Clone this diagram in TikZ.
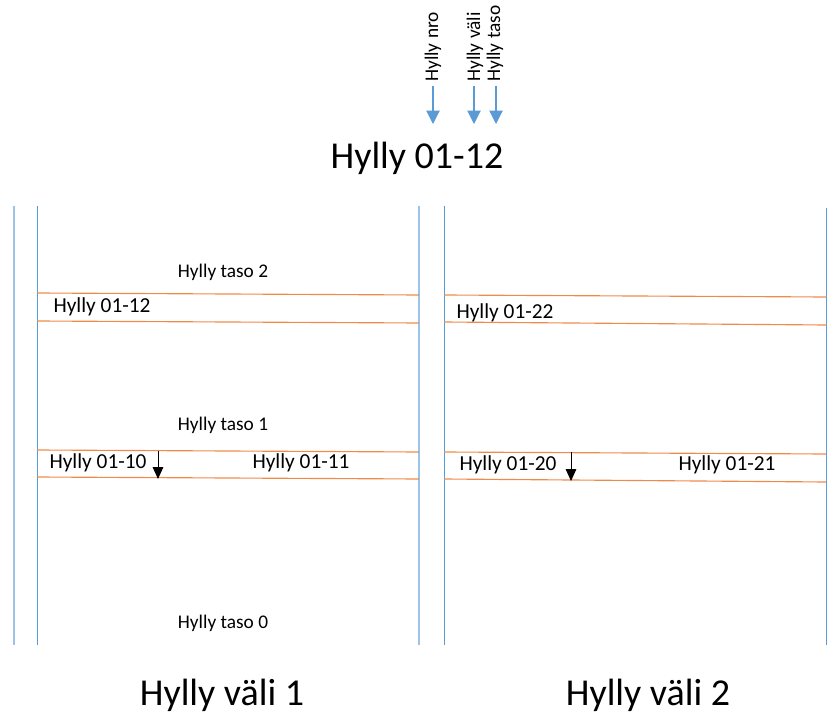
\documentclass[tikz,border=0pt]{standalone}
\usepackage{fontspec}
\setmainfont{Carlito}
\usetikzlibrary{arrows.meta}
\definecolor{rackblue}{HTML}{5B9BD5}
\definecolor{rackpale}{HTML}{9DC3E6}
\definecolor{shelforange}{HTML}{EE8A4A}
\tikzset{
  post/.style={draw=rackblue, line width=0.75pt},
  postpale/.style={draw=rackpale, line width=0.9pt},
  shelf/.style={draw=shelforange, line width=0.85pt},
  lvl/.style={anchor=base, inner sep=0pt, font=\fontsize{14.5}{16}\selectfont},
  slot/.style={anchor=base, inner sep=0pt, font=\fontsize{16}{18}\selectfont},
  big/.style={anchor=base, inner sep=0pt, font=\fontsize{28.5}{32}\selectfont},
  keytxt/.style={anchor=west, inner sep=0pt, rotate=90, font=\fontsize{14.5}{16}\selectfont},
  keyarrow/.style={draw=rackblue, line width=0.8pt, -{Triangle[width=10pt,length=10pt]}, fill=rackblue},
  droparrow/.style={draw=black, line width=0.75pt, -{Triangle[width=8pt,length=9pt]}},
}
\begin{document}
\begin{tikzpicture}[x=0.75pt, y=-0.75pt]
\useasboundingbox (0,0) rectangle (839,713);

% uprights of the two bays
\draw[postpale] (14,206) -- (14,645);
\draw[post]     (37,206) -- (37,645);
\draw[postpale] (419,206) -- (419,645);
\draw[post]     (444,206) -- (444,645);
\draw[post]     (826,208) -- (826,645);

% shelf boards, bay 1
\draw[shelf] (37,293) -- (419,295);
\draw[shelf] (37,321) -- (419,323);
\draw[shelf] (37,450) -- (419,452);
\draw[shelf] (37,477) -- (419,479);
% shelf boards, bay 2
\draw[shelf] (444,295) -- (826,297);
\draw[shelf] (444,322) -- (826,325);
\draw[shelf] (444,452) -- (826,454);
\draw[shelf] (444,479) -- (826,482);

% level names
\node[lvl] (t2) at (223,277) {Hylly taso 2};
\node[lvl] (t1) at (223,430) {Hylly taso 1};
\node[lvl] (t0) at (223,628) {Hylly taso 0};

% location codes
\node[slot] (s12) at (102,312) {Hylly 01-12};
\node[slot] (s22) at (505,318) {Hylly 01-22};
\node[slot] (s10) at (98,468) {Hylly 01-10};
\node[slot] (s11) at (301,468) {Hylly 01-11};
\node[slot] (s20) at (508,470) {Hylly 01-20};
\node[slot] (s21) at (727,470) {Hylly 01-21};

% dividers between slots
\coordinate (d1a) at (158,451);
\coordinate (d1b) at (158,479);
\coordinate (d2a) at (571,452);
\coordinate (d2b) at (571,481);
\draw[droparrow] (d1a) -- (d1b);
\draw[droparrow] (d2a) -- (d2b);

% bay names and title
\node[big] (v1) at (222,705) {Hylly väli 1};
\node[big] (v2) at (648,705) {Hylly väli 2};
\node[big] (title) at (417,169) {Hylly 01-12};

% code legend above the title
\node[keytxt] (knro)  at (433,82) {Hylly nro};
\node[keytxt] (kvali) at (475,82) {Hylly väli};
\node[keytxt] (ktaso) at (495,82) {Hylly taso};
\coordinate (anro)  at (433,124);
\coordinate (avali) at (474,124);
\coordinate (ataso) at (496,124);
\draw[keyarrow] ([yshift=-3pt]knro.west -| anro) -- (anro);
\draw[keyarrow] ([yshift=-3pt]kvali.west -| avali) -- (avali);
\draw[keyarrow] ([yshift=-3pt]ktaso.west -| ataso) -- (ataso);
\end{tikzpicture}
\end{document}
